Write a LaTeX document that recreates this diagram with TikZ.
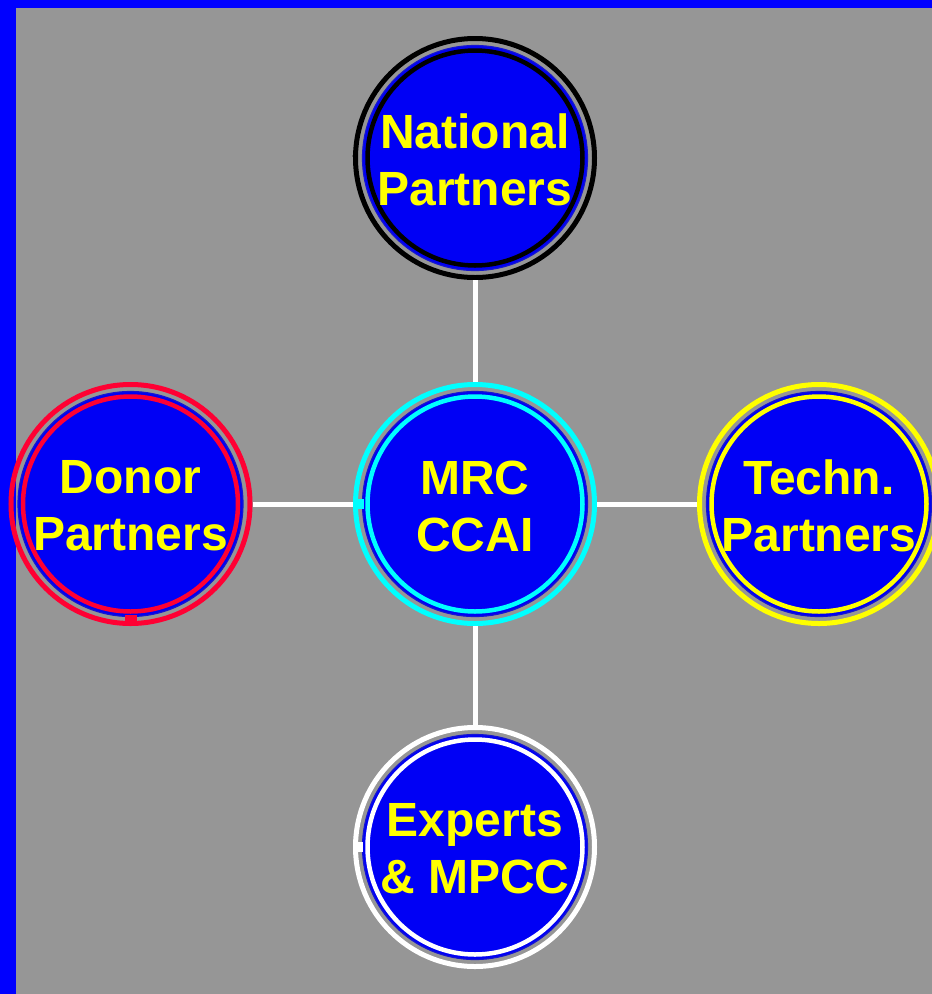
\documentclass[tikz,border=0pt]{standalone}
\usepackage{fontspec}
\setmainfont{Liberation Sans}
\usetikzlibrary{calc}
\definecolor{bgblue}{RGB}{0,0,255}
\definecolor{bggray}{RGB}{150,150,150}
\definecolor{diskblue}{RGB}{0,0,245}
\definecolor{rimblue}{RGB}{20,20,210}
\definecolor{donorred}{RGB}{255,0,51}
\definecolor{mrccyan}{RGB}{0,255,255}
\definecolor{techyellow}{RGB}{255,255,0}
\definecolor{labelyellow}{RGB}{255,255,0}
\tikzset{
  outerring/.style={circle, draw=#1, line width=5pt, minimum size=239pt, inner sep=0pt},
  disk/.style={circle, fill=diskblue, draw=rimblue, line width=1.2pt, minimum size=225pt, inner sep=0pt},
  innerring/.style={circle, draw=#1, line width=4.5pt, minimum size=215pt, inner sep=0pt},
  lbl/.style={text=labelyellow, align=center, font=\fontsize{48}{57}\selectfont\bfseries},
  conn/.style={draw=white, line width=5pt}
}
\newcommand{\mkpartner}[5]{%
  \node[outerring=#4] (#1) at (#2,#3) {};
  \node[disk] (#1disk) at (#2,#3) {};
  \node[innerring=#4] (#1inner) at (#2,#3) {};
  \node[lbl] (#1text) at (#2,#3+2) {#5};
}
\begin{document}
\begin{tikzpicture}[x=1pt,y=-1pt]
\useasboundingbox (0,0) rectangle (932,994);
\fill[bgblue] (0,0) rectangle (932,994);
\fill[bggray] (16,8) rectangle (932,994);
\mkpartner{nat}{475}{158}{black}{National\\Partners}
\mkpartner{mrc}{475}{504}{mrccyan}{MRC\\CCAI}
\mkpartner{don}{130.5}{504}{donorred}{Donor\\Partners}
\mkpartner{tec}{819}{504}{techyellow}{Techn.\\Partners}
\mkpartner{exp}{475}{847}{white}{Experts\\\& MPCC}
\draw[conn] (nat.south) -- (mrc.north);
\draw[conn] (mrc.south) -- (exp.north);
\draw[conn] (don.east) -- (mrc.west);
\draw[conn] (mrc.east) -- (tec.west);
\fill[black] ($(nat.west)+(2,-2)$) circle (2.5pt);
\fill[donorred] ($(don.south)+(-6,-11)$) rectangle ($(don.south)+(6,-2)$);
\fill[mrccyan] ($(mrc.west)+(3,-5)$) rectangle ($(mrc.west)+(11,5)$);
\fill[white] ($(exp.west)+(2,-5)$) rectangle ($(exp.west)+(10,5)$);
\end{tikzpicture}
\end{document}
